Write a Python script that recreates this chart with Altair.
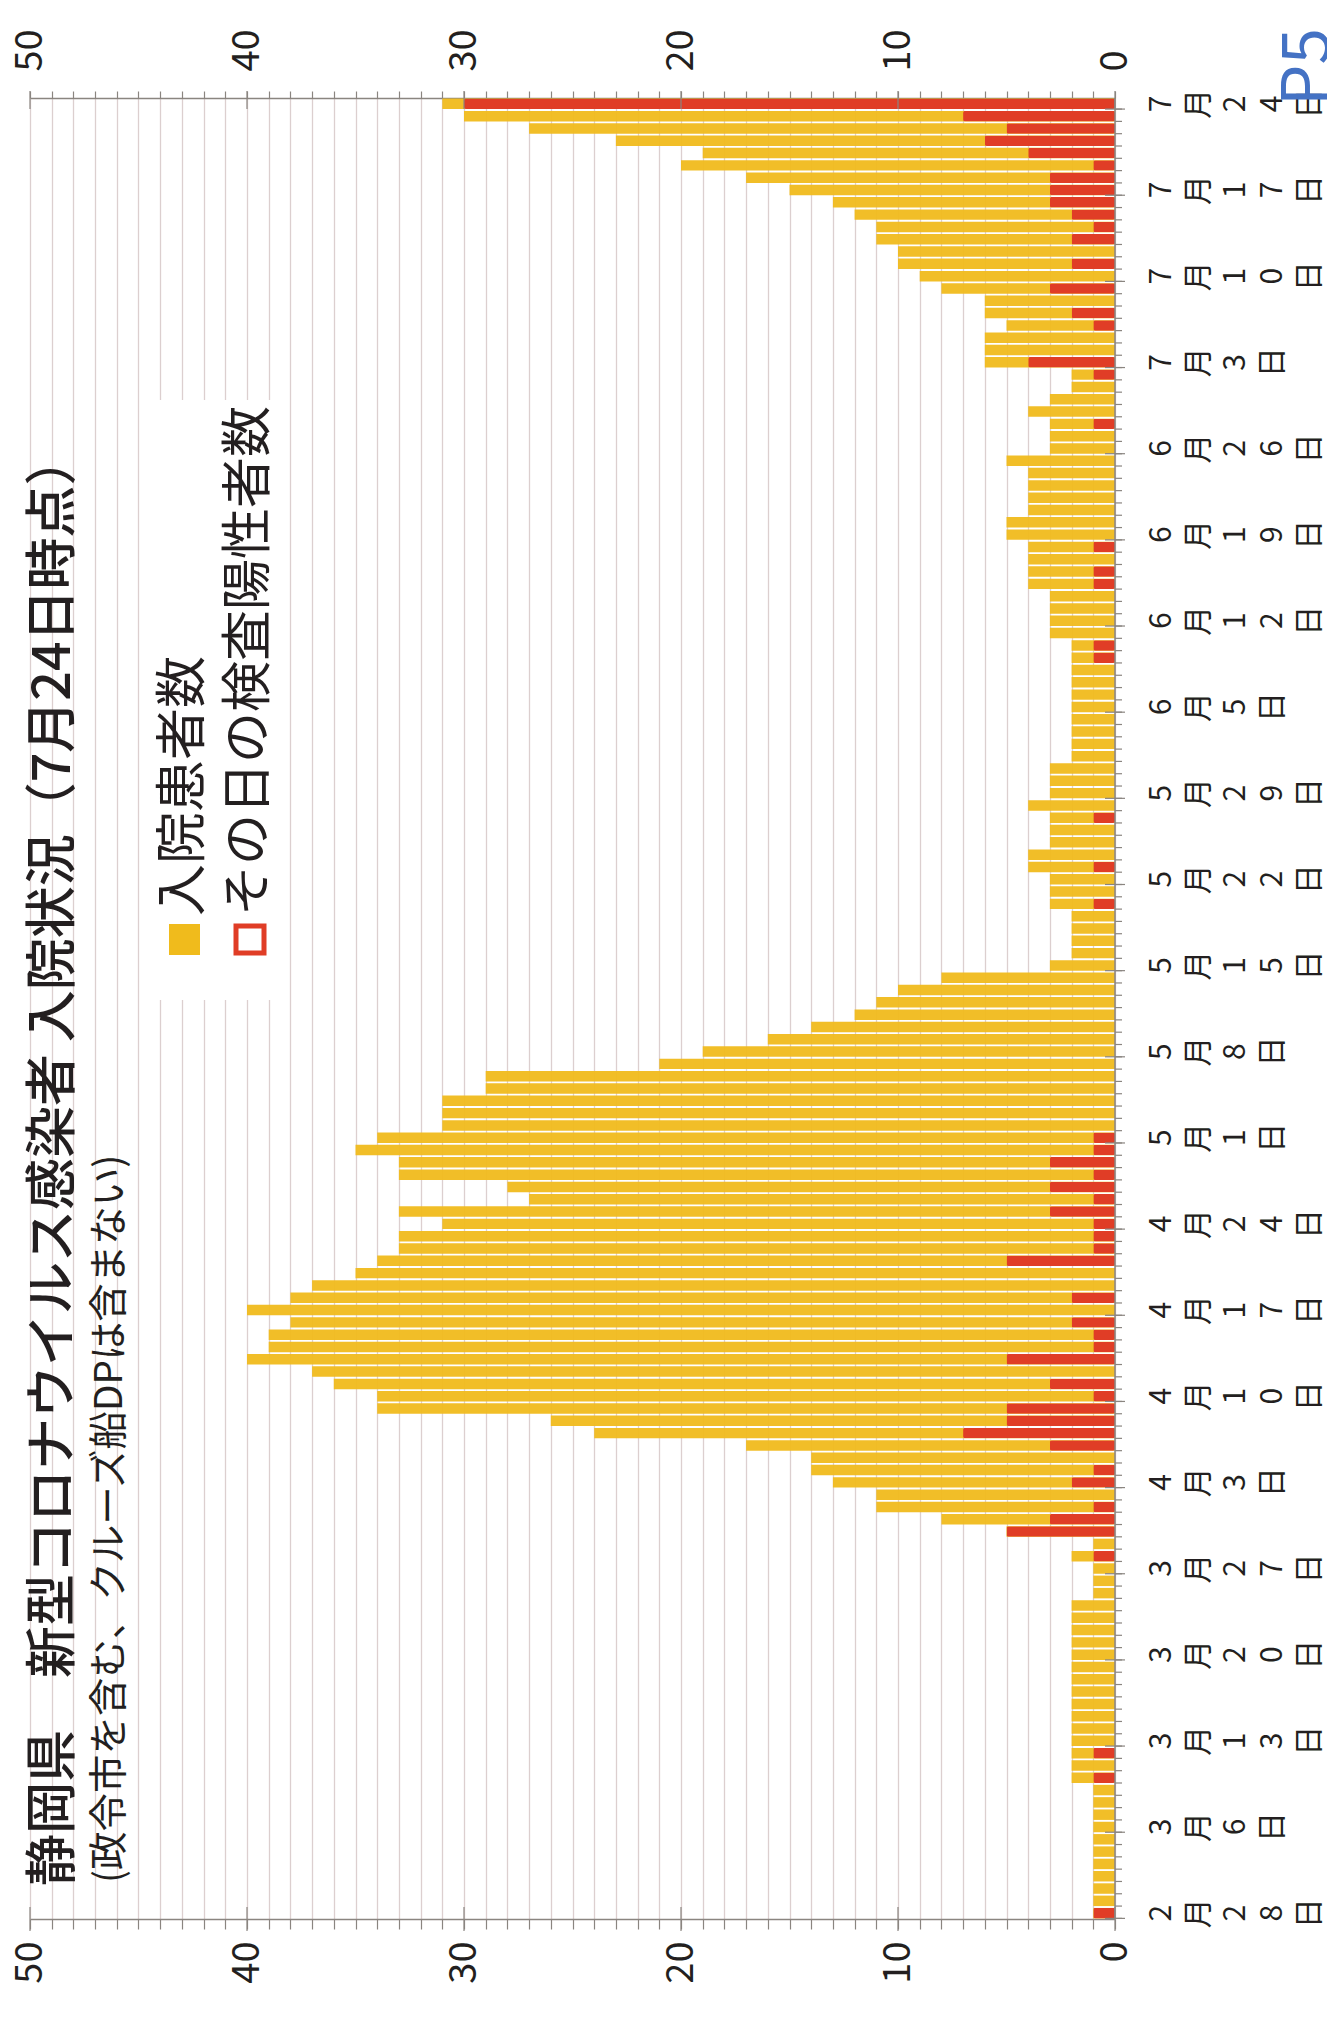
import datetime as dt
import altair as alt
import pandas as pd

# ---- values (2020) ----
hosp_feb = [1, 1]
hosp_mar = [1, 1, 1, 1, 1, 1, 1, 1, 1, 2,
            2, 2, 2, 2, 2, 2, 2, 2, 2, 2,
            2, 2, 2, 2, 1, 1, 1, 2, 1, 5,
            8]
hosp_apr = [11, 11, 13, 14, 14, 17, 24, 26, 34, 34,
            36, 37, 40, 39, 39, 38, 40, 38, 37, 35,
            34, 33, 33, 31, 33, 27, 28, 33, 33, 35]
hosp_may = [34, 31, 31, 31, 29, 29, 21, 19, 16, 14,
            12, 11, 10, 8, 3, 2, 2, 2, 2, 3,
            3, 3, 4, 4, 3, 3, 3, 4, 3, 3,
            3]
hosp_jun = [2, 2, 2, 2, 2, 2, 2, 2, 2, 2,
            3, 3, 3, 3, 4, 4, 4, 4, 5, 5,
            4, 4, 4, 4, 5, 3, 3, 3, 4, 3]
hosp_jul = [2, 2, 6, 6, 6, 5, 6, 6, 8, 9,
            10, 10, 11, 11, 12, 13, 15, 17, 20, 19,
            23, 27, 30, 31]

pos_feb = [1, 0]
pos_mar = [0, 0, 0, 0, 0, 0, 0, 0, 0, 1,
           0, 1, 0, 0, 0, 0, 0, 0, 0, 0,
           0, 0, 0, 0, 0, 0, 0, 1, 0, 5,
           3]
pos_apr = [1, 0, 2, 1, 0, 3, 7, 5, 5, 1,
           3, 0, 5, 1, 1, 2, 0, 2, 0, 0,
           5, 1, 1, 1, 3, 1, 3, 1, 3, 1]
pos_may = [1, 0, 0, 0, 0, 0, 0, 0, 0, 0,
           0, 0, 0, 0, 0, 0, 0, 0, 0, 1,
           0, 0, 1, 0, 0, 0, 1, 0, 0, 0,
           0]
pos_jun = [0, 0, 0, 0, 0, 0, 0, 0, 1, 1,
           0, 0, 0, 0, 1, 1, 0, 1, 0, 0,
           0, 0, 0, 0, 0, 0, 0, 1, 0, 0]
pos_jul = [0, 1, 4, 0, 0, 1, 2, 0, 3, 0,
           2, 0, 2, 1, 2, 3, 3, 3, 1, 4,
           6, 5, 7, 30]

tick_labels = ["2月28日", "3月6日", "3月13日", "3月20日", "3月27日", "4月3日",
               "4月10日", "4月17日", "4月24日", "5月1日", "5月8日", "5月15日",
               "5月22日", "5月29日", "6月5日", "6月12日", "6月19日", "6月26日",
               "7月3日", "7月10日", "7月17日", "7月24日"]
value_ticks = [0, 10, 20, 30, 40, 50]

title_text = "静岡県　新型コロナウイルス感染者 入院状況（7月24日時点）"
subtitle_text = "(政令市を含む、クルーズ船DPは含まない)"
legend_hosp = "入院患者数"
legend_pos = "その日の検査陽性者数"
page_text = "P5"

hosp = hosp_feb + hosp_mar + hosp_apr + hosp_may + hosp_jun + hosp_jul
pos = pos_feb + pos_mar + pos_apr + pos_may + pos_jun + pos_jul
start = dt.date(2020, 2, 28)
dates = []
for k in range(len(hosp)):
    d = start + dt.timedelta(days=k)
    dates.append(f"{d.month}月{d.day}日")

df = pd.DataFrame({"date": dates, "hosp": hosp, "pos": pos})
# each character of a date label on its own line (vertical label, then rotated)
major_df = pd.DataFrame({"date": tick_labels,
                         "lab": ["\n".join(list(s)) for s in tick_labels]})
vt_df = pd.DataFrame({"t": value_ticks})
one = pd.DataFrame({"a": [0]})

# ---- style ----
FONT = "Noto Sans CJK JP"
TXT = "#231f20"
GRAY = "#8a8580"
GRID = "#dccfcf"
YEL = "#F0BB1C"
RED = "#E03D26"
W, H = 1085, 1821

xscale = alt.Scale(domain=[0, 50], reverse=True, nice=False, zero=True)
yscale = alt.Scale(domain=list(reversed(dates)), paddingInner=0.15, paddingOuter=0.05)

x_bottom = alt.Axis(orient="bottom", values=list(range(51)),
                    labelExpr="datum.value % 10 === 0 ? datum.label : ''",
                    labelAngle=270, labelAlign="right", labelBaseline="middle",
                    labelFontSize=38, labelFont=FONT, labelColor=TXT, labelPadding=12,
                    labelOverlap=False, tickSize=10, tickColor=GRAY, tickWidth=1.2,
                    domainColor=GRAY, domainWidth=1.5, grid=True, gridColor=GRID,
                    gridWidth=1.3, title="")
x_top = alt.Axis(orient="top", values=list(range(51)),
                 labelExpr="datum.value % 10 === 0 ? datum.label : ''",
                 labelAngle=270, labelAlign="left", labelBaseline="middle",
                 labelFontSize=38, labelFont=FONT, labelColor=TXT, labelPadding=20,
                 labelOverlap=False, tickSize=7, tickColor=GRAY, tickWidth=1.2,
                 domainColor=GRAY, domainWidth=1.5, grid=False, title="")

Y = alt.Y("date:N", scale=yscale, axis=None)

legend_box = alt.Chart(one).mark_rect(color="white").encode(
    x=alt.value(111), x2=alt.value(258), y=alt.value(302), y2=alt.value(902))

yellow = alt.Chart(df).mark_bar(color=YEL, opacity=0.95).encode(
    x=alt.X("hosp:Q", scale=xscale, axis=x_bottom), y=Y)
red = alt.Chart(df).transform_filter("datum.pos > 0").mark_bar(
    color=RED, cornerRadius=2).encode(
    x=alt.X("pos:Q", scale=xscale, axis=x_top), y=Y)

# value-axis major ticks (crossing the axis lines)
vt_top = alt.Chart(vt_df).mark_rule(color=GRAY, strokeWidth=1.2).encode(
    x=alt.X("t:Q", scale=xscale, axis=None), y=alt.value(-7), y2=alt.value(11))
vt_bot = alt.Chart(vt_df).mark_rule(color=GRAY, strokeWidth=1.2).encode(
    x=alt.X("t:Q", scale=xscale, axis=None), y=alt.value(H - 12), y2=alt.value(H + 12))

# date axis: line, daily ticks, weekly ticks, labels
d_line = alt.Chart(one).mark_rule(color=GRAY, strokeWidth=1.5).encode(
    x=alt.value(W), y=alt.value(0), y2=alt.value(H))
d_minor = alt.Chart(df).mark_rule(color=GRAY, strokeWidth=1.2).encode(
    y=alt.Y("date:N", scale=yscale, axis=None, bandPosition=1),
    x=alt.value(W), x2=alt.value(W + 7))
d_major = alt.Chart(major_df).mark_rule(color=GRAY, strokeWidth=1.2).encode(
    y=alt.Y("date:N", scale=yscale, axis=None, bandPosition=1),
    x=alt.value(W - 10), x2=alt.value(W + 10))
d_labels = alt.Chart(major_df).mark_text(
    angle=270, align="center", baseline="top", lineBreak="\n", lineHeight=37,
    font=FONT, fontSize=30, color=TXT
).encode(y=alt.Y("date:N", scale=yscale, axis=None), x=alt.value(W + 32),
         text="lab:N")


def vtext(txt, x, y, size, color=TXT, align="left", weight="normal"):
    return alt.Chart(one).mark_text(
        text=txt, angle=270, align=align, baseline="middle", font=FONT,
        fontSize=size, color=color, fontWeight=weight
    ).encode(x=alt.value(x), y=alt.value(y))


title = vtext(title_text, 24, 1788, 52, weight=500)
subtitle = vtext(subtitle_text, 80, 1785, 38.5)
leg_t1 = vtext(legend_hosp, 154, 818, 52)
leg_t2 = vtext(legend_pos, 220, 818, 51)
leg_sq1 = alt.Chart(one).mark_rect(color=YEL).encode(
    x=alt.value(139), x2=alt.value(170), y=alt.value(826), y2=alt.value(857))
leg_sq2 = alt.Chart(one).mark_rect(fill="white", stroke=RED, strokeWidth=5).encode(
    x=alt.value(206), x2=alt.value(234), y=alt.value(828), y2=alt.value(855))
p5 = vtext(page_text, 1279, -31, 66, color="#4472C4", align="center")

chart = alt.layer(
    legend_box, yellow, red, vt_top, vt_bot, d_line, d_minor, d_major, d_labels,
    title, subtitle, leg_t1, leg_t2, leg_sq1, leg_sq2, p5
).properties(
    width=W, height=H,
    autosize=alt.AutoSizeParams(type="none"),
    padding={"left": 22, "top": 90, "right": 212, "bottom": 85},
).configure_view(stroke="transparent")

chart.save("out.html", embed_options={"renderer": "svg", "actions": False})
